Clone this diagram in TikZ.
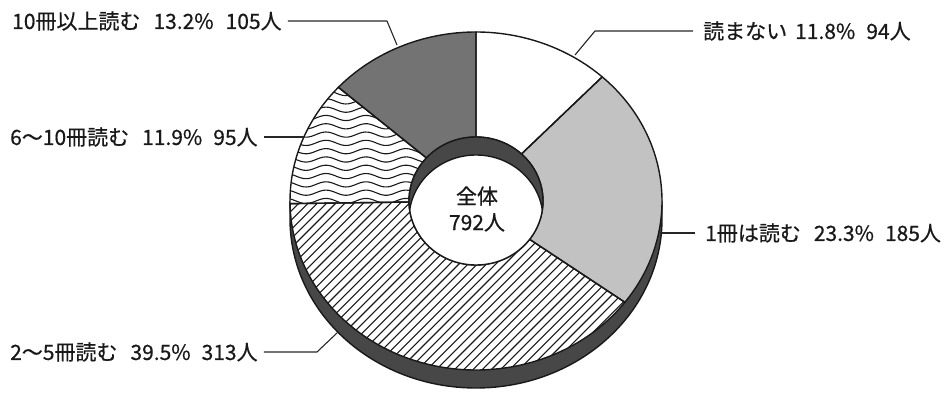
\documentclass[tikz,border=0pt]{standalone}
\usepackage{fontspec}
\setmainfont{Noto Sans CJK JP}[FakeBold=0.6]
\newcommand\spath[2]{(#1:186 and 169) arc[start angle=#1,end angle=#2,x radius=186,y radius=169] -- (#2:67 and 64) arc[start angle=#2,end angle=#1,x radius=67,y radius=64] -- cycle}
\begin{document}
\begin{tikzpicture}[x=1pt,y=1pt,line join=round,
  lbl/.style={font=\fontsize{21}{26}\selectfont, inner sep=0pt, text=black!90},
  lead/.style={line width=1.1pt, black!85},
  edge/.style={line width=1.4pt, draw=black!90},
  hatch/.style={line width=1.1pt, black!90}]
\useasboundingbox (0,0) rectangle (945,393);
\begin{scope}[shift={(476,192)}]
  % outer side wall
  \fill[black!72] (-186,0) -- (-186,-18) arc[start angle=180,end angle=360,x radius=186,y radius=169] -- (186,0) arc[start angle=360,end angle=180,x radius=186,y radius=169] -- cycle;
  \draw[edge] (-186,0) -- (-186,-18) arc[start angle=180,end angle=360,x radius=186,y radius=169] -- (186,0);
  % slices
  \path[fill=white] \spath{90}{47.27};
  \path[fill=black!24] \spath{47.27}{-36.82};
  \path[fill=white] \spath{-36.82}{-179.09};
  \begin{scope}
    \clip \spath{-36.82}{-179.09};
    \foreach \k in {-22,...,40}
      \draw[hatch] ({\k*9.2-200},-200) -- ++(400,400);
  \end{scope}
  \path[fill=white] \spath{180.91}{137.73};
  \begin{scope}
    \clip \spath{180.91}{137.73};
    \foreach \k in {-1,...,16}
      \draw[hatch] plot[smooth,domain=-195:-30,samples=60] (\x,{\k*8.3+2.6*sin(9*\x)});
  \end{scope}
  \path[fill=black!55] \spath{137.73}{90};
  \foreach \a/\b in {90/47.27,47.27/-36.82,-36.82/-179.09,180.91/137.73,137.73/90}
    \draw[edge] \spath{\a}{\b};
  % inner hole with visible inner wall
  \fill[black!72] (0,0) ellipse[x radius=67,y radius=64];
  \begin{scope}
    \clip (0,0) ellipse[x radius=67,y radius=64];
    \fill[white] (0,-18) ellipse[x radius=67,y radius=64];
    \draw[edge] (0,-18) ellipse[x radius=67,y radius=64];
  \end{scope}
  \draw[edge] (0,0) ellipse[x radius=67,y radius=64];
  \node[lbl, align=center] (tot) at (1,-8) {全体\\792人};
\end{scope}
% labels and leaders
\node[lbl, anchor=west] (t5) at (12,372) {10冊以上読む\hspace{13pt}13.2\%\hspace{12pt}105人};
\coordinate (k5) at (387,372);
\coordinate (e5) at (397,348);
\draw[lead, shorten <=6pt] (t5.east) -- (k5) -- (e5);

\node[lbl, anchor=west] (t4) at (10,256) {6〜10冊読む\hspace{13pt}11.9\%\hspace{11pt}95人};
\coordinate (e4) at (304,256);
\draw[lead, shorten <=6pt] (t4.east) -- (e4);

\node[lbl, anchor=west] (t3) at (10,41) {2〜5冊読む\hspace{13pt}39.5\%\hspace{11pt}313人};
\coordinate (k3) at (317,41);
\coordinate (e3) at (337,60);
\draw[lead, shorten <=6pt] (t3.east) -- (k3) -- (e3);

\node[lbl, anchor=west] (t1) at (703,362) {読まない\hspace{8pt}11.8\%\hspace{11pt}94人};
\coordinate (k1) at (595,362);
\coordinate (e1) at (575,338);
\draw[lead, shorten <=10pt] (t1.west) -- (k1) -- (e1);

\node[lbl, anchor=west] (t2) at (705,160) {1冊は読む\hspace{13pt}23.3\%\hspace{11pt}185人};
\coordinate (e2) at (660,160);
\draw[lead, shorten <=10pt] (t2.west) -- (e2);
\end{tikzpicture}
\end{document}
